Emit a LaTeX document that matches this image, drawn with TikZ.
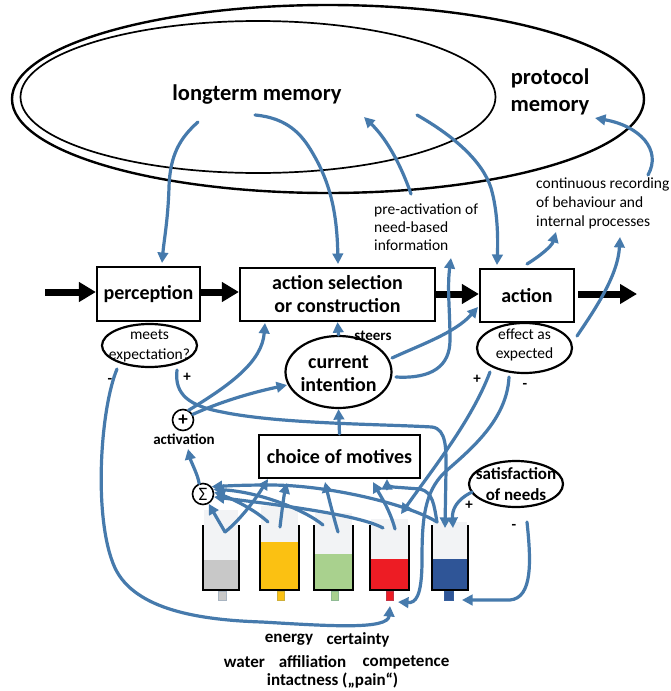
\documentclass[tikz,border=0pt]{standalone}
\usepackage{fontspec}
\setmainfont{Carlito}
\usetikzlibrary{shapes.geometric,arrows.meta}
\definecolor{cblue}{RGB}{70,122,172}
\definecolor{tankbg}{HTML}{F2F3F5}
\definecolor{tgray}{HTML}{C8C8C8}
\definecolor{tyellow}{HTML}{FBC112}
\definecolor{tgreen}{HTML}{A9D18E}
\definecolor{tred}{HTML}{ED1C24}
\definecolor{tblue}{HTML}{2F5597}
\newcommand{\myMem}{\fontsize{22.5}{27}\selectfont\bfseries}
\newcommand{\myBox}{\fontsize{20}{23}\selectfont\bfseries}
\newcommand{\mySmall}{\fontsize{15.5}{19.5}\selectfont}
\newcommand{\myLbl}{\fontsize{15}{18}\selectfont\bfseries}
\newcommand{\myTank}{\fontsize{17}{21}\selectfont\bfseries}
\newcommand{\mySign}{\fontsize{19}{19}\selectfont\bfseries}
% #1 xl, #2 xr, #3 fill top, #4 bg top, #5 colour, #6 tap left, #7 tap right
\newcommand{\mytank}[7]{%
  \fill[tankbg] (#1+1,#4) rectangle (#2-1,#3);
  \fill[#5] (#1,#3) rectangle (#2,590);
  \draw[line width=2.4pt] (#1,525) -- (#1,590) -- (#2,590) -- (#2,525);
  \filldraw[fill=#5, draw=#5!75!cblue, line width=0.8pt] (#6,591.5) rectangle (#7,600);
}
\begin{document}
\begin{tikzpicture}[x=1pt,y=-1pt,
  box/.style={draw, line width=2.2pt, inner sep=0pt, align=center, font=\myBox},
  ell/.style={draw, ellipse, line width=2.2pt, inner sep=0pt},
  conn/.style={draw=cblue, line width=3.2pt, line cap=round, -{Triangle[length=10.5pt,width=10.5pt]}},
  bigarr/.style={line width=7pt, -{Triangle[length=17pt,width=19pt]}},
  lbl/.style={font=\myLbl, inner sep=0pt},
  tlbl/.style={font=\myTank, inner sep=0pt},
  small/.style={font=\mySmall, align=left, inner sep=0pt, anchor=west},
  circ/.style={draw, circle, line width=1.6pt, minimum size=21pt, inner sep=0pt},
]
\useasboundingbox (0,0) rectangle (671,691);
\fill[white] (0,0) rectangle (671,691);

% memories
\node[ell, line width=2.4pt, minimum width=632pt, minimum height=188pt] (pm) at (328,99) {};
\node[ell, line width=1.7pt, minimum width=475pt, minimum height=152pt] (lm) at (258,97) {};
\node[font=\myMem] (lmt) at (257,95) {longterm memory};
\node[font=\myMem, align=center] (pmt) at (550,92) {protocol\\memory};

% boxes
\node[box, minimum width=103pt, minimum height=54pt] (perc) at (148.5,294) {perception};
\node[box, minimum width=195pt, minimum height=53pt] (asel) at (337.5,294.5) {action selection\\or construction};
\node[box, minimum width=94pt, minimum height=53pt] (act) at (527,295.5) {action};
\node[box, minimum width=161pt, minimum height=43pt] (com) at (339.5,456.5) {choice of motives};

% ellipses
\node[ell, minimum width=95pt, minimum height=43pt] (me) at (149.5,345.5) {};
\node[font=\mySmall, align=center] (met) at (149.5,346) {meets\\expectation?};
\node[ell, minimum width=106pt, minimum height=72pt] (ci) at (338.5,372) {};
\node[font=\myBox, align=center] (cit) at (338.5,374) {current\\intention};
\node[ell, minimum width=95pt, minimum height=50pt] (ee) at (524.5,348) {};
\node[font=\mySmall, align=center] (eet) at (524.5,345) {effect as\\expected};
\node[ell, minimum width=94pt, minimum height=46pt] (sn) at (516,484) {};
\node[font={\fontsize{17}{21}\selectfont\bfseries}, align=center] (snt) at (516,484) {satisfaction\\of needs};

% circles
\node[circ, font=\mySign] (plus) at (183,420) {+};
\node[circ, font={\fontsize{19}{19}\selectfont}] (sig) at (203,494) {Σ};

% labels
\node[lbl] (steers) at (373,336) {steers};
\node[lbl] (actv) at (184,439) {activation};
\node[lbl] (meMinus) at (110,381) {-};
\node[lbl] (mePlus) at (187,377) {+};
\node[lbl] (eePlus) at (477,379) {+};
\node[lbl] (eeMinus) at (525,386) {-};
\node[lbl] (snPlus) at (469,505) {+};
\node[lbl] (snMinus) at (514,527) {-};
\node[small, font={\fontsize{15.5}{18}\selectfont}] (pre) at (374,227) {pre-activation of\\need-based\\information};
\node[small, font={\fontsize{15.5}{19}\selectfont}] (rec) at (536,203) {continuous recording\\of behaviour and\\internal processes};

% tanks
\mytank{203}{239}{560}{510}{tgray}{218}{226}
\mytank{260}{299}{542}{506}{tyellow}{277}{284}
\mytank{314}{353}{554}{513}{tgreen}{331}{338}
\mytank{370}{409}{559}{519}{tred}{386}{393}
\mytank{432}{468}{559}{522}{tblue}{444}{453}

% tank labels
\node[tlbl] (lEnergy) at (289,640) {energy};
\node[tlbl] (lCert) at (358,640) {certainty};
\node[tlbl] (lWater) at (244.5,662) {water};
\node[tlbl] (lAff) at (312.5,662) {affiliation};
\node[tlbl] (lComp) at (406,662) {competence};
\node[tlbl] (lInt) at (332.5,681) {intactness („pain“)};

% big black arrows
\coordinate (inL) at (45,292);
\coordinate (outR) at (637,294);
\coordinate (actR) at (578,294);
\draw[bigarr] (inL) -- (perc.west |- inL);
\draw[bigarr] (perc.east |- inL) -- (asel.west |- inL);
\draw[bigarr] (asel.east |- actR) -- (act.west |- actR);
\draw[bigarr] (actR) -- (outR);

% named connector end points
\coordinate (lmA) at (198,122);
\coordinate (percIn) at (162,263);
\coordinate (lmB) at (255,115);
\coordinate (aselIn) at (338,264);
\coordinate (preS) at (411,194);
\coordinate (lmP) at (364,117);
\coordinate (lmC) at (417,115);
\coordinate (actIn) at (497,265);
\coordinate (recS) at (648,175);
\coordinate (pmIn) at (595,118);
\coordinate (actS) at (527,264);
\coordinate (recIn1) at (556,232);
\coordinate (eeS) at (577,336);
\coordinate (recIn2) at (620,237);
\coordinate (ciA) at (392,358);
\coordinate (actIn2) at (478,307);
\coordinate (ciB) at (396,377);
\coordinate (infoIn) at (451,258);
\coordinate (aselIn2) at (265,323);
\coordinate (ciIn) at (287,385);
\coordinate (actvIn) at (188,449);
\coordinate (meM) at (117,369);
\coordinate (redTapIn) at (390,606);
\coordinate (meP) at (177,370);
\coordinate (blueIn1) at (445,528);
\coordinate (eeP) at (490,372);
\coordinate (redIn) at (401,514);
\coordinate (eeM) at (509,377);
\coordinate (redTapIn2) at (398,602);
\coordinate (snP) at (472,492);
\coordinate (blueIn2) at (453,528);
\coordinate (snM) at (527,522);
\coordinate (blueTapIn) at (462,600);
\coordinate (g1) at (225,532);
\coordinate (y1a) at (280,527);
\coordinate (y1b) at (268,522);
\coordinate (gr1) at (338,532);
\coordinate (gr2) at (323,525);
\coordinate (r1) at (395,529);
\coordinate (r2) at (383,528);
\coordinate (b1) at (437,522);
\coordinate (comIn1) at (268,479);
\coordinate (comIn2) at (287,483);
\coordinate (comIn3) at (325,482);
\coordinate (comIn4) at (373,482);
\coordinate (comIn5) at (387,479);

% memory connectors
\draw[conn] (lmA) .. controls (180,138) and (170,155) .. (169,187) .. controls (168,220) and (164,240) .. (percIn);
\draw[conn] (lmB) .. controls (288,118) and (302,135) .. (312,152) .. controls (330,182) and (337,212) .. (aselIn);
\draw[conn] (preS) .. controls (402,168) and (388,140) .. (lmP);
\draw[conn] (lmC) .. controls (452,135) and (482,160) .. (491,188) .. controls (498,212) and (498,240) .. (actIn);
\draw[conn] (recS) .. controls (662,150) and (640,126) .. (pmIn);
\draw[conn] (actS) .. controls (540,256) and (552,246) .. (recIn1);
\draw[conn] (eeS) .. controls (596,308) and (618,275) .. (recIn2);

% intention connectors
\draw[conn] (ciA) .. controls (420,345) and (455,333) .. (actIn2);
\draw[conn] (ciB) .. controls (432,379) and (450,366) .. (450,340) .. controls (450,310) and (447,288) .. (infoIn);
\draw[conn] (ci.north) -- (asel.south);
\draw[conn] (com.north) -- (ci.south);
\draw[conn] (plus.60) .. controls (230,385) and (262,362) .. (aselIn2);
\draw[conn] (plus.30) .. controls (220,402) and (250,393) .. (ciIn);
\draw[conn] (sig.110) .. controls (198,475) and (191,462) .. (actvIn);

% expectation connectors
\draw[conn] (meM) .. controls (100,410) and (93,520) .. (115,568) .. controls (135,610) and (200,620) .. (262,622) .. controls (330,626) and (388,630) .. (redTapIn);
\draw[conn] (meP) .. controls (174,395) and (190,406) .. (222,412) .. controls (280,424) and (380,424) .. (432,427) .. controls (447,429) and (446,450) .. (446,470) -- (blueIn1);
\draw[conn] (eeP) .. controls (472,420) and (432,470) .. (redIn);
\draw[conn] (eeM) .. controls (507,420) and (470,450) .. (445,472) .. controls (424,492) and (422,520) .. (422,560) .. controls (422,598) and (415,603) .. (redTapIn2);
\draw[conn] (snP) .. controls (456,500) and (452,510) .. (blueIn2);
\draw[conn] (snM) .. controls (531,560) and (533,598) .. (510,600) -- (blueTapIn);

% tanks to choice of motives and sigma
\draw[conn] (g1) -- (sig.-60);
\draw[conn] (g1) .. controls (240,520) and (255,500) .. (comIn1);
\draw[conn] (y1a) .. controls (282,510) and (284,495) .. (comIn2);
\draw[conn] (y1b) .. controls (255,510) and (235,500) .. (sig.10);
\draw[conn] (gr1) .. controls (333,515) and (328,495) .. (comIn3);
\draw[conn] (gr2) .. controls (305,510) and (260,492) .. (sig.25);
\draw[conn] (r1) .. controls (390,510) and (380,495) .. (comIn4);
\draw[conn] (r2) .. controls (360,515) and (280,505) .. (sig.-15);
\draw[conn] (b1) .. controls (434,505) and (433,492) .. (420,489) -- (393,487) .. controls (388,486) and (387,484) .. (comIn5);
\draw[conn] (b1) .. controls (410,505) and (330,485) .. (270,485) .. controls (240,485) and (225,486) .. (sig.40);
\end{tikzpicture}
\end{document}
